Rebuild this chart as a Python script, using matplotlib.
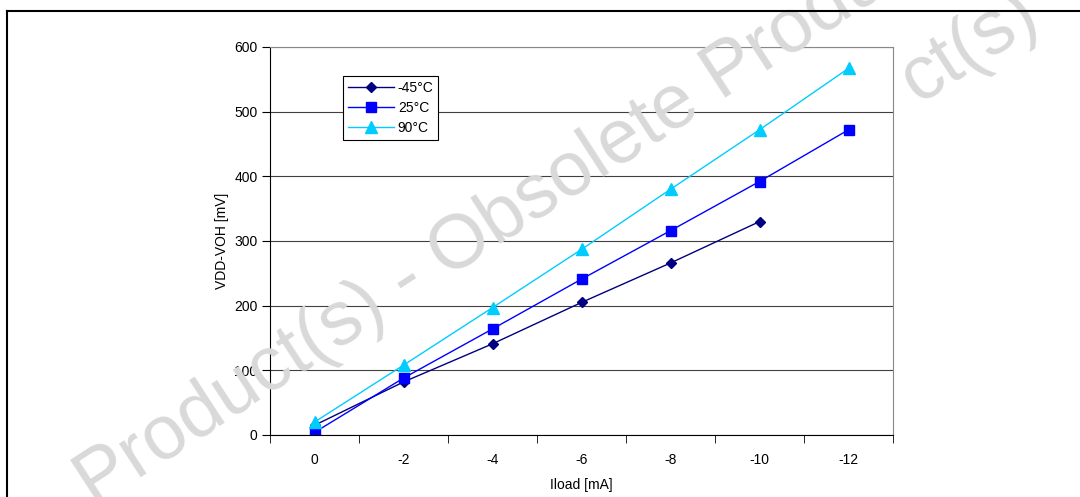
import numpy as np
import matplotlib.pyplot as plt
from matplotlib.lines import Line2D

# Данные графика
iload = ['0', '-2', '-4', '-6', '-8', '-10', '-12']
v_m45 = [15, 82, 141, 205, 266, 330, np.nan]
v_25 = [4, 88, 164, 241, 316, 392, 472]
v_90 = [20, 108, 197, 287, 380, 472, 567]
labels = ['-45°C', '25°C', '90°C']

plt.rcParams['font.family'] = ['Liberation Sans', 'DejaVu Sans']

W, H = 1080, 497
fig = plt.figure(figsize=(W / 100, H / 100), dpi=100)

# Водяной знак (обрезан краями, как в оригинале)
wm = dict(fontsize=55, color='#d9d9d9', rotation=33, rotation_mode='anchor',
          ha='left', va='baseline', zorder=0)
fig.text(94 / W, 1 - 508 / H, 'Product(s) - Obsolete Product(s)', **wm)
fig.text(918 / W, 1 - 104 / H, 'ct(s)', **wm)

# Рамка рисунка
fig.add_artist(Line2D([7 / W, 7 / W], [0, 1 - 11 / H], color='black', lw=1.5))
fig.add_artist(Line2D([7 / W, 1], [1 - 11 / H, 1 - 11 / H], color='black', lw=1.5))

ax = fig.add_axes([270 / W, 1 - 435 / H, (893 - 270) / W, (435 - 47) / H])
ax.patch.set_alpha(0)

x = np.arange(len(iload))
ax.plot(x, v_m45, color='#000080', marker='D', ms=5.5, lw=1, label=labels[0])
ax.plot(x, v_25, color='#0000FF', marker='s', ms=7, lw=1, label=labels[1])
ax.plot(x, v_90, color='#00CCFF', marker='^', ms=8, lw=1, label=labels[2])

ax.set_xlim(-0.5, len(iload) - 0.5)
ax.set_ylim(0, 600)
ax.set_yticks(np.arange(0, 601, 100))
ax.yaxis.grid(True, color='#404040', lw=0.8)
ax.set_axisbelow(True)

ax.set_xticks(x)
ax.set_xticklabels(iload)
ax.set_xticks(np.arange(-0.5, len(iload)), minor=True)
ax.tick_params(axis='x', which='major', length=0, pad=13, labelsize=10)
ax.tick_params(axis='x', which='minor', length=6, direction='out', color='black')
ax.tick_params(axis='y', length=6, direction='out', labelsize=10, pad=3)

ax.spines['top'].set_color('#888888')
ax.spines['right'].set_color('#888888')
ax.spines['left'].set_color('black')
ax.spines['bottom'].set_color('black')

ax.set_xlabel('Iload [mA]', fontsize=10, labelpad=8)
ax.set_ylabel('VDD-VOH [mV]', fontsize=10, labelpad=4)

leg = ax.legend(loc='upper left', bbox_to_anchor=((343 - 270) / 623, 1 - (76 - 47) / 388),
                borderaxespad=0, fontsize=10, frameon=True, fancybox=False,
                edgecolor='black', framealpha=1, borderpad=0.35, labelspacing=0.45,
                handlelength=3.3, handletextpad=0.3)
leg.get_frame().set_linewidth(0.8)

fig.savefig('out.png', dpi=100)
